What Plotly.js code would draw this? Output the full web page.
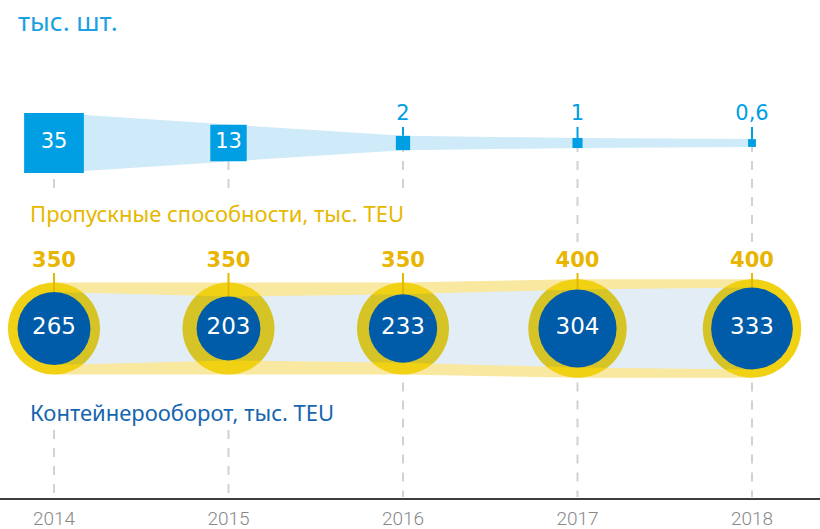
<!DOCTYPE html>
<html>
<head>
<meta charset="utf-8">
<script src="https://cdn.plot.ly/plotly-3.0.1.min.js"></script>
<style>html,body{margin:0;padding:0;background:#fff}#chart{width:820px;height:529px}</style>
</head>
<body>
<div id="chart"></div>
<script>
// ---- data ----
const years = [2014, 2015, 2016, 2017, 2018];
const yearLabels = ['2014', '2015', '2016', '2017', '2018'];
const equipment = [35, 13, 2, 1, 0.6];              // тыс. шт.
const equipmentLabels = ['35', '13', '2', '1', '0,6'];
const capacity = [350, 350, 350, 400, 400];         // Пропускные способности, тыс. TEU
const capacityLabels = ['350', '350', '350', '400', '400'];
const throughput = [265, 203, 233, 304, 333];       // Контейнерооборот, тыс. TEU
const throughputLabels = ['265', '203', '233', '304', '333'];

// ---- layout constants (pixel-like y axis) ----
const W = 820, H = 529, plotH = 498;
const pxPerYear = 174.5, firstX = 54;
const xRange = [years[0] - firstX / pxPerYear, years[0] + (W - firstX) / pxPerYear];
const rowSq = 143, rowCirc = 328.5;
const sqScale = 10.1, outScale = 4.92, inScale = 4.48;

const sq = equipment.map(v => sqScale * Math.sqrt(v));
const outD = capacity.map(v => outScale * Math.sqrt(v));
const inD = throughput.map(v => inScale * Math.sqrt(v));
const rev = a => a.slice().reverse();

const traces = [];

// dashed guides (behind everything)
const guideTopEnd = [192, 191, 188, 243, 243];
const guideBottomStart = [430, 430, rowCirc, rowCirc, rowCirc];
{
  const gx = [], gy = [];
  years.forEach((yr, i) => {
    gx.push(yr, yr, null, yr, yr, null);
    gy.push(rowSq, guideTopEnd[i], null, guideBottomStart[i], plotH - 1, null);
  });
  traces.push({x: gx, y: gy, mode: 'lines', line: {color: '#d2d2d2', width: 2, dash: 'dash'}, hoverinfo: 'skip'});
}

// top band
traces.push({
  x: years.concat(rev(years)),
  y: sq.map(s => rowSq - s / 2).concat(rev(sq.map(s => rowSq + s / 2))),
  mode: 'lines', fill: 'toself', fillcolor: '#cfeaf8', line: {width: 0, color: 'rgba(0,0,0,0)'}, hoverinfo: 'skip'
});
// blue ticks for small squares
{
  const tx = [], ty = [];
  years.forEach((yr, i) => {
    if (sq[i] < 30) { tx.push(yr, yr, null); ty.push(127, rowSq - sq[i] / 2, null); }
  });
  traces.push({x: tx, y: ty, mode: 'lines', line: {color: '#009fe3', width: 2}, hoverinfo: 'skip'});
}
// squares
traces.push({
  x: years, y: years.map(() => rowSq), mode: 'markers',
  marker: {symbol: 'square', size: sq, color: '#009fe3', opacity: 1, line: {width: 0}}, hoverinfo: 'skip'
});
// equipment labels
traces.push({
  x: years, y: sq.map(s => s > 30 ? rowSq : 115),
  mode: 'text', text: equipmentLabels, textposition: 'middle center',
  textfont: {family: 'DejaVu Sans', size: 21, color: sq.map(s => s > 30 ? '#ffffff' : '#009fe3')},
  hoverinfo: 'skip'
});

// yellow stripes
traces.push({
  x: years.concat(rev(years)),
  y: outD.map(d => rowCirc - d / 2).concat(rev(inD.map(d => rowCirc - d / 2))),
  mode: 'lines', fill: 'toself', fillcolor: '#f9e8a0', line: {width: 0, color: 'rgba(0,0,0,0)'}, hoverinfo: 'skip'
});
traces.push({
  x: years.concat(rev(years)),
  y: inD.map(d => rowCirc + d / 2).concat(rev(outD.map(d => rowCirc + d / 2))),
  mode: 'lines', fill: 'toself', fillcolor: '#f9e8a0', line: {width: 0, color: 'rgba(0,0,0,0)'}, hoverinfo: 'skip'
});
// outer circles (capacity)
traces.push({
  x: years, y: years.map(() => rowCirc), mode: 'markers',
  marker: {symbol: 'circle', size: outD, color: '#f1d113', opacity: 1, line: {width: 0}}, hoverinfo: 'skip'
});
// yellow ticks
{
  const tx = [], ty = [];
  years.forEach((yr, i) => { tx.push(yr, yr, null); ty.push(273, rowCirc - inD[i] / 2, null); });
  traces.push({x: tx, y: ty, mode: 'lines', line: {color: '#e2b900', width: 2}, hoverinfo: 'skip'});
}
// inner translucent band
traces.push({
  x: years.concat(rev(years)),
  y: inD.map(d => rowCirc - d / 2).concat(rev(inD.map(d => rowCirc + d / 2))),
  mode: 'lines', fill: 'toself', fillcolor: 'rgba(31,111,175,0.125)', line: {width: 0, color: 'rgba(0,0,0,0)'}, hoverinfo: 'skip'
});
// inner circles (throughput)
traces.push({
  x: years, y: years.map(() => rowCirc), mode: 'markers',
  marker: {symbol: 'circle', size: inD, color: '#005ca8', opacity: 1, line: {width: 0}}, hoverinfo: 'skip'
});
// throughput labels
traces.push({
  x: years, y: years.map(() => rowCirc), mode: 'text', text: throughputLabels,
  textfont: {family: 'DejaVu Sans', size: 23, color: '#ffffff'}, hoverinfo: 'skip'
});
// capacity labels
traces.push({
  x: years, y: years.map(() => 262), mode: 'text', text: capacityLabels,
  textfont: {family: 'DejaVu Sans', size: 21, color: '#e8b500', weight: 600}, hoverinfo: 'skip'
});

const layout = {
  width: W, height: H,
  margin: {l: 0, r: 0, t: 0, b: H - plotH, pad: 0},
  paper_bgcolor: '#ffffff', plot_bgcolor: 'rgba(0,0,0,0)',
  showlegend: false,
  xaxis: {
    range: xRange, tickvals: years, ticktext: yearLabels,
    showgrid: false, zeroline: false, showline: true, linecolor: '#3d3d3d', linewidth: 2,
    ticks: '', ticklabelstandoff: 2,
    tickfont: {family: 'Roboto', size: 19, weight: 300, color: '#888888'}, fixedrange: true
  },
  yaxis: {range: [plotH, 0], visible: false, fixedrange: true},
  annotations: [
    {text: 'тыс. шт.', xref: 'paper', yref: 'y', x: 16 / W, y: 21, xanchor: 'left', yanchor: 'middle',
     showarrow: false, font: {family: 'Noto Sans', size: 26, color: '#1ba1e2'}},
    {text: 'Пропускные способности, тыс. TEU', xref: 'paper', yref: 'y', x: 28 / W, y: 213, xanchor: 'left', yanchor: 'middle',
     showarrow: false, font: {family: 'Noto Sans', size: 22, color: '#e6b800'}},
    {text: 'Контейнерооборот, тыс. TEU', xref: 'paper', yref: 'y', x: 28 / W, y: 412, xanchor: 'left', yanchor: 'middle',
     showarrow: false, font: {family: 'Noto Sans', size: 22, color: '#1565b0'}}
  ]
};

Plotly.newPlot('chart', traces, layout, {staticPlot: true, displayModeBar: false});
</script>
</body>
</html>
